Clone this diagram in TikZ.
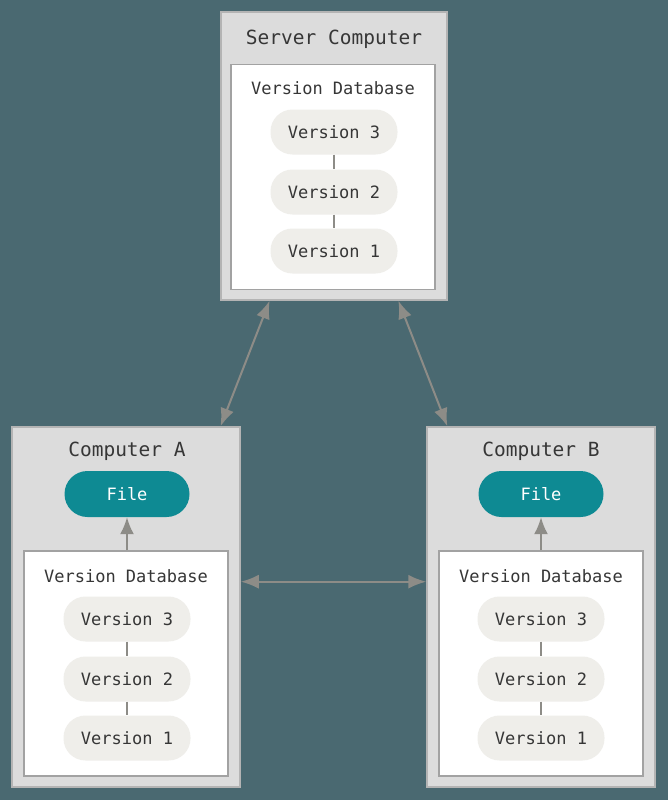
\documentclass[tikz,border=0pt]{standalone}
\usepackage{fontspec}
\setmainfont{DejaVu Sans Mono}
\usetikzlibrary{arrows.meta,calc}
\definecolor{bg}{HTML}{4A6971}
\definecolor{boxfill}{HTML}{DCDCDC}
\definecolor{boxline}{HTML}{B4B4B4}
\definecolor{dbline}{HTML}{A2A2A2}
\definecolor{pillfill}{HTML}{EFEEEA}
\definecolor{filefill}{HTML}{0E8A93}
\definecolor{txt}{HTML}{363636}
\definecolor{arrowc}{HTML}{8D8C87}
\tikzset{
  outerbox/.style={draw=boxline, fill=boxfill, line width=1.5pt, inner sep=0pt},
  dbbox/.style={draw=dbline, fill=white, line width=1.5pt, inner sep=0pt, minimum width=204pt, minimum height=225pt},
  titletext/.style={text=txt, font=\fontsize{19.5}{22}\selectfont, inner sep=0pt},
  dbtext/.style={text=txt, font=\fontsize{17}{20}\selectfont, inner sep=0pt},
  pill/.style={fill=pillfill, rounded corners=22pt, minimum width=127pt, minimum height=45pt, text=txt, font=\fontsize{17}{20}\selectfont, inner sep=0pt},
  filepill/.style={fill=filefill, rounded corners=23pt, minimum width=125pt, minimum height=46pt, text=white, font=\fontsize{17}{20}\selectfont, inner sep=0pt},
  link/.style={draw=arrowc, line width=1.2pt},
  arr/.style={draw=arrowc, line width=2pt, {Latex[length=18pt,width=14pt]}-{Latex[length=18pt,width=14pt]}},
  uparr/.style={draw=arrowc, line width=2pt, -{Latex[length=17pt,width=14pt]}}
}
\begin{document}
\begin{tikzpicture}[x=1pt,y=-1pt]
\path[fill=bg] (0,0) rectangle (668,800);
\useasboundingbox (0,0) rectangle (668,800);

% Server
\node[outerbox, minimum width=226pt, minimum height=288pt] (server) at (334,156) {};
\node[titletext] (servertitle) at (334,39) {Server Computer};
\node[dbbox] (sdb) at (333,177) {};
\node[dbtext] (sdblabel) at (333,88) {Version Database};
\node[pill] (s3) at (334,132) {Version 3};
\node[pill] (s2) at (334,192) {Version 2};
\node[pill] (s1) at (334,251) {Version 1};
\draw[link] (s3) -- (s2);
\draw[link] (s2) -- (s1);

% Computer A
\node[outerbox, minimum width=228pt, minimum height=360pt] (compA) at (126,607) {};
\node[titletext] (atitle) at (127,451) {Computer A};
\node[filepill] (afile) at (127,494) {File};
\node[dbbox] (adb) at (126,663.5) {};
\node[dbtext] (adblabel) at (126,576) {Version Database};
\node[pill] (a3) at (127,619) {Version 3};
\node[pill] (a2) at (127,679) {Version 2};
\node[pill] (a1) at (127,738) {Version 1};
\draw[link] (a3) -- (a2);
\draw[link] (a2) -- (a1);
\draw[uparr] (adb.north -| afile.south) -- (afile.south);

% Computer B
\node[outerbox, minimum width=228pt, minimum height=360pt] (compB) at (541,607) {};
\node[titletext] (btitle) at (541,451) {Computer B};
\node[filepill] (bfile) at (541,494) {File};
\node[dbbox] (bdb) at (541,663.5) {};
\node[dbtext] (bdblabel) at (541,576) {Version Database};
\node[pill] (b3) at (541,619) {Version 3};
\node[pill] (b2) at (541,679) {Version 2};
\node[pill] (b1) at (541,738) {Version 1};
\draw[link] (b3) -- (b2);
\draw[link] (b2) -- (b1);
\draw[uparr] (bdb.north -| bfile.south) -- (bfile.south);

% Connectors between computers
\draw[arr] ($(server.south west)!0.217!(server.south east)$) -- ($(compA.north west)!0.912!(compA.north east)$);
\draw[arr] ($(server.south west)!0.783!(server.south east)$) -- ($(compB.north west)!0.092!(compB.north east)$);
\draw[arr] ($(compA.north east)!0.43!(compA.south east)$) -- ($(compB.north west)!0.43!(compB.south west)$);
\end{tikzpicture}
\end{document}
